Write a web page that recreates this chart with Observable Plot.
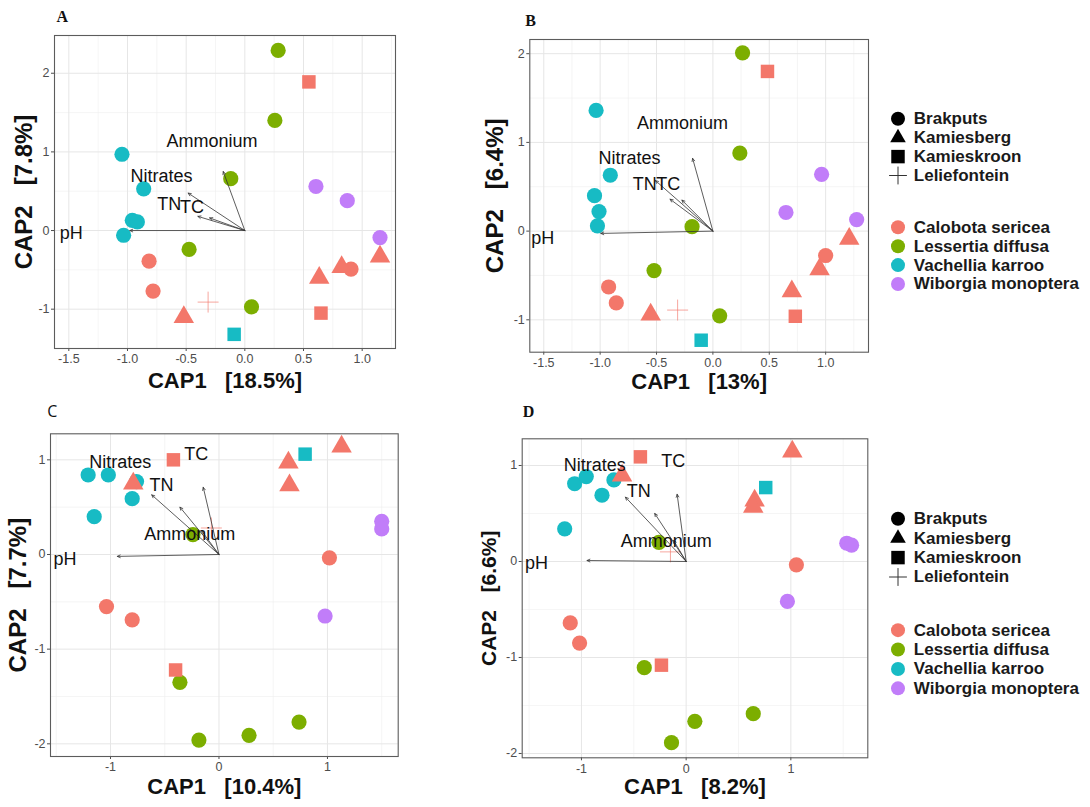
<!DOCTYPE html>
<html><head><meta charset="utf-8">
<script src="https://cdn.jsdelivr.net/npm/d3@7"></script>
<script src="https://cdn.jsdelivr.net/npm/@observablehq/plot@0.6"></script>
<style>
body{margin:0;background:#fff;width:1090px;height:807px;position:relative;overflow:hidden;font-family:"Liberation Sans",Arial,sans-serif;}
.panel{position:absolute;}
svg text{white-space:pre;}
</style></head><body>
<div id="pA" class="panel" style="left:0px;top:0px"></div>
<div id="pB" class="panel" style="left:480px;top:0px"></div>
<div id="pC" class="panel" style="left:0px;top:400px"></div>
<div id="pD" class="panel" style="left:480px;top:400px"></div>
<div id="lg1" class="panel" style="left:880px;top:100px"></div>
<div id="lg2" class="panel" style="left:880px;top:500px"></div>
<script>
// ---------- categories ----------
const speciesNames = ["Calobota sericea","Lessertia diffusa","Vachellia karroo","Wiborgia monoptera"];
const siteNames = ["Brakputs","Kamiesberg","Kamieskroon","Leliefontein"];
const speciesColors = ["#F3776A","#7CAE00","#17BBC4","#C17DF9"];
const vectorNames = ["pH","Nitrates","TN","TC","Ammonium"];

// ---------- samples (same order in every panel) ----------
const sampleSpecies = [
  "Lessertia diffusa","Lessertia diffusa","Lessertia diffusa","Lessertia diffusa","Lessertia diffusa",
  "Vachellia karroo","Vachellia karroo","Vachellia karroo","Vachellia karroo","Vachellia karroo","Vachellia karroo",
  "Calobota sericea","Calobota sericea","Calobota sericea","Calobota sericea","Calobota sericea",
  "Calobota sericea","Calobota sericea","Calobota sericea","Calobota sericea","Calobota sericea",
  "Wiborgia monoptera","Wiborgia monoptera","Wiborgia monoptera"];
const sampleSite = [
  "Brakputs","Brakputs","Brakputs","Brakputs","Brakputs",
  "Brakputs","Brakputs","Brakputs","Brakputs","Brakputs","Kamieskroon",
  "Brakputs","Brakputs","Brakputs","Kamiesberg","Kamiesberg",
  "Kamiesberg","Kamiesberg","Kamieskroon","Kamieskroon","Leliefontein",
  "Brakputs","Brakputs","Brakputs"];

// ---------- panel A ----------
const A_cap1 = [0.284,0.256,-0.12,-0.475,0.057, -1.047,-0.862,-0.959,-0.916,-1.033,-0.091, -0.816,-0.782,0.905,-0.52,0.634, 1.152,0.825,0.546,0.649,-0.313, 0.606,0.873,1.152];
const A_cap2 = [2.29,1.40,0.66,-0.24,-0.97, 0.97,0.53,0.13,0.11,-0.06,-1.32, -0.39,-0.77,-0.49,-1.10,-0.60, -0.33,-0.465,1.89,-1.05,-0.91, 0.56,0.38,-0.09];
const A_vec1 = [-0.98,-0.483,-0.40,-0.30,-0.184];
const A_vec2 = [0.0,0.476,0.18,0.16,0.75];
const A_lab1 = [-1.48,-0.71,-0.645,-0.45,-0.28];
const A_lab2 = [-0.04,0.69,0.33,0.295,1.13];

// ---------- panel B ----------
const B_cap1 = [0.263,0.239,-0.185,-0.522,0.06, -1.036,-0.91,-1.05,-1.01,-1.024,-0.104, -0.925,-0.857,1.0,-0.552,0.70, 0.946,1.209,0.484,0.731,-0.313, 0.964,0.648,1.275];
const B_cap2 = [2.01,0.88,0.05,-0.445,-0.955, 1.36,0.63,0.40,0.22,0.06,-1.23, -0.63,-0.81,-0.275,-0.94,-0.68, -0.43,-0.087,1.80,-0.96,-0.89, 0.64,0.21,0.13];
const B_vec1 = [-0.994,-0.51,-0.38,-0.275,-0.18];
const B_vec2 = [-0.026,0.57,0.36,0.35,0.82];
const B_lab1 = [-1.51,-0.74,-0.605,-0.395,-0.27];
const B_lab2 = [-0.08,0.82,0.53,0.53,1.22];

// ---------- panel C ----------
const C_cap1 = [-0.24,-0.36,-0.185,0.277,0.738, -1.206,-1.02,-0.76,-0.80,-1.15,0.794, -1.037,-0.80,1.018,-0.79,0.64, 0.65,1.13,-0.42,-0.40,-0.07, 1.50,1.50,0.978];
const C_cap2 = [0.21,-1.35,-1.96,-1.91,-1.77, 0.84,0.84,0.77,0.59,0.40,1.06, -0.55,-0.69,-0.035,0.75,0.97, 0.73,1.14,1.00,-1.22,0.28, 0.35,0.27,-0.65];
const C_vec1 = [-0.937,-0.62,-0.36,-0.145,-0.16];
const C_vec2 = [-0.02,0.63,0.50,0.71,0.25];
const C_lab1 = [-1.42,-0.91,-0.53,-0.21,-0.27];
const C_lab2 = [-0.05,0.97,0.73,1.06,0.21];

// ---------- panel D ----------
const D_cap1 = [-0.26,-0.40,0.083,-0.14,0.641, -1.065,-0.954,-0.804,-0.69,-1.16,0.76, -1.107,-1.018,1.053,-0.612,1.014, 0.654,0.641,-0.437,-0.236,-0.15, 1.534,1.58,0.967];
const D_cap2 = [0.20,-1.106,-1.665,-1.887,-1.585, 0.81,0.885,0.69,0.85,0.34,0.77, -0.64,-0.85,-0.035,0.895,1.145, 0.635,0.57,1.09,-1.08,0.10, 0.19,0.17,-0.416];
const D_vec1 = [-0.947,-0.58,-0.30,-0.086,-0.12];
const D_vec2 = [0.01,0.67,0.50,0.70,0.22];
const D_lab1 = [-1.43,-0.874,-0.453,-0.124,-0.19];
const D_lab2 = [-0.014,1.0,0.73,1.04,0.21];

// ---------- axis breaks ----------
const ticksX_AB = [-1.5,-1.0,-0.5,0.0,0.5,1.0];
const minorX_AB = [-1.25,-0.75,-0.25,0.25,0.75,1.25];
const ticksY_AB = [-1,0,1,2];
const minorY_AB = [-0.5,0.5,1.5];
const ticksX_CD = [-1,0,1];
const minorX_CD = [-1.5,-0.5,0.5,1.5];
const ticksY_CD = [-2,-1,0,1];
const minorY_CD = [-1.5,-0.5,0.5];

function panel(cfg) {
  const pts = sampleSpecies.map((s, i) => ({species: s, site: sampleSite[i], x: cfg.cap1[i], y: cfg.cap2[i]}));
  const filled = pts.filter(d => d.site !== "Leliefontein");
  const crosses = pts.filter(d => d.site === "Leliefontein");
  const vecs = vectorNames.map((n, i) => ({name: n, x: cfg.vec1[i], y: cfg.vec2[i], lx: cfg.lab1[i], ly: cfg.lab2[i]}));
  return Plot.plot({
    width: cfg.width, height: cfg.height,
    marginTop: cfg.m[0], marginRight: cfg.m[1], marginBottom: cfg.m[2], marginLeft: cfg.m[3],
    x: {domain: cfg.xdom},
    y: {domain: cfg.ydom},
    color: {domain: speciesNames, range: speciesColors},
    symbol: {domain: siteNames, range: ["circle","triangle","square","plus"]},
    style: {fontFamily: "'Liberation Sans', Arial, sans-serif", background: "#fff", overflow: "visible"},
    marks: [
      Plot.ruleX(cfg.minorX, {stroke: "#efefef", strokeWidth: 0.6}),
      Plot.ruleY(cfg.minorY, {stroke: "#efefef", strokeWidth: 0.6}),
      Plot.ruleX(cfg.ticksX, {stroke: "#e6e6e6", strokeWidth: 1}),
      Plot.ruleY(cfg.ticksY, {stroke: "#e6e6e6", strokeWidth: 1}),
      Plot.axisX({ticks: cfg.ticksX, tickFormat: cfg.fmtX, label: null, tickSize: 3, tickPadding: 3, fontSize: 12.5, color: "#4d4d4d"}),
      Plot.axisY({ticks: cfg.ticksY, tickFormat: d => String(d), label: null, tickSize: 3, tickPadding: 2, fontSize: 12.5, color: "#4d4d4d"}),
      Plot.dot(filled, {x: "x", y: "y", fill: "species", symbol: "site", r: 7.6, stroke: "none"}),
      Plot.dot(crosses, {x: "x", y: "y", stroke: "species", fill: "none", symbol: "site", r: 6.8, strokeWidth: 1, strokeOpacity: 0.65}),
      Plot.arrow(vecs, {x1: () => 0, y1: () => 0, x2: "x", y2: "y", stroke: "#333", strokeWidth: 0.8, headLength: 6, headAngle: 50}),
      Plot.text(vecs, {x: "lx", y: "ly", text: "name", fontSize: 18, fill: "#111"}),
      Plot.frame({stroke: "#5c5c5c", strokeWidth: 1.1}),
      Plot.text([cfg.xtitle], {frameAnchor: "bottom", dy: cfg.xtdy, text: d => d, fontSize: 22, fontWeight: "bold", fill: "#111", lineAnchor: "middle"}),
      Plot.text([cfg.ytitle], {frameAnchor: "left", dx: cfg.ytdx, rotate: -90, text: d => d, fontSize: cfg.ytsize, fontWeight: "bold", fill: "#111", lineAnchor: "middle", textAnchor: "middle"}),
      Plot.text([cfg.letter], {frameAnchor: "top-left", dx: cfg.ldx, dy: cfg.ldy, text: d => d, fontSize: 16, fontWeight: cfg.lweight, fontFamily: cfg.lfont, fill: "#111", lineAnchor: "middle", textAnchor: "middle"})
    ]
  });
}

const fmt1 = d => d.toFixed(1);
const fmt0 = d => String(d);

document.getElementById("pA").append(panel({
  width: 400, height: 400, m: [35, 5, 52, 54],
  xdom: [-1.622, 1.284], ydom: [-1.50, 2.48],
  cap1: A_cap1, cap2: A_cap2, vec1: A_vec1, vec2: A_vec2, lab1: A_lab1, lab2: A_lab2,
  ticksX: ticksX_AB, minorX: minorX_AB, ticksY: ticksY_AB, minorY: minorY_AB, fmtX: fmt1,
  xtitle: "CAP1   [18.5%]", xtdy: 32, ytitle: "CAP2   [7.8%]", ytdx: -30, ytsize: 24,
  letter: "A", ldx: 7.7, ldy: -18.3, lweight: "bold", lfont: "'Liberation Serif', serif"
}));
document.getElementById("pB").append(panel({
  width: 390, height: 400, m: [39, 2, 48.3, 49.3],
  xdom: [-1.624, 1.38], ydom: [-1.365, 2.16],
  cap1: B_cap1, cap2: B_cap2, vec1: B_vec1, vec2: B_vec2, lab1: B_lab1, lab2: B_lab2,
  ticksX: ticksX_AB, minorX: minorX_AB, ticksY: ticksY_AB, minorY: minorY_AB, fmtX: fmt1,
  xtitle: "CAP1   [13%]", xtdy: 30, ytitle: "CAP2   [6.4%]", ytdx: -34, ytsize: 24,
  letter: "B", ldx: 0.7, ldy: -19, lweight: "bold", lfont: "'Liberation Serif', serif"
}));
document.getElementById("pC").append(panel({
  width: 400, height: 407, m: [33.3, 2.3, 51, 50],
  xdom: [-1.553, 1.652], ydom: [-2.134, 1.275],
  cap1: C_cap1, cap2: C_cap2, vec1: C_vec1, vec2: C_vec2, lab1: C_lab1, lab2: C_lab2,
  ticksX: ticksX_CD, minorX: minorX_CD, ticksY: ticksY_CD, minorY: minorY_CD, fmtX: fmt0,
  xtitle: "CAP1   [10.4%]", xtdy: 30.7, ytitle: "CAP2   [7.7%]", ytdx: -31.7, ytsize: 24,
  letter: "C", ldx: 1.7, ldy: -21.6, lweight: "normal", lfont: "'Open Sans', sans-serif"
}));
document.getElementById("pD").append(panel({
  width: 390, height: 407, m: [38.3, 2.7, 49.7, 41.7],
  xdom: [-1.566, 1.735], ydom: [-2.045, 1.278],
  cap1: D_cap1, cap2: D_cap2, vec1: D_vec1, vec2: D_vec2, lab1: D_lab1, lab2: D_lab2,
  ticksX: ticksX_CD, minorX: minorX_CD, ticksY: ticksY_CD, minorY: minorY_CD, fmtX: fmt0,
  xtitle: "CAP1   [8.2%]", xtdy: 29.4, ytitle: "CAP2   [6.6%]", ytdx: -33.4, ytsize: 21,
  letter: "D", ldx: 6.3, ldy: -26.6, lweight: "bold", lfont: "'Liberation Serif', serif"
}));

// ---------- legends ----------
function legend(first, step) {
  const gap = 5.74;
  const siteRows = siteNames.map((s, i) => ({label: s, row: i}));
  const spRows = speciesNames.map((s, i) => ({label: s, row: i + gap}));
  const last = gap + 3;
  const symR = {Brakputs: 7, Kamiesberg: 5.8, Kamieskroon: 7.6, Leliefontein: 5.8};
  return Plot.plot({
    width: 210, height: 200, margin: 0,
    x: {domain: [0, 1], axis: null},
    y: {domain: [0, last], range: [first, first + last * step], axis: null},
    r: {type: "identity"},
    symbol: {domain: siteNames, range: ["circle","triangle","square","plus"]},
    color: {domain: speciesNames, range: speciesColors},
    style: {fontFamily: "'Liberation Sans', Arial, sans-serif", overflow: "visible"},
    marks: [
      Plot.dot(siteRows.filter(d => d.label !== "Leliefontein"), {frameAnchor: "left", dx: 17.5, y: "row", symbol: "label", fill: "#000", r: d => symR[d.label]}),
      Plot.dot(siteRows.filter(d => d.label === "Leliefontein"), {frameAnchor: "left", dx: 17.5, y: "row", symbol: "label", stroke: "#333", fill: "none", strokeWidth: 1, r: d => symR[d.label]}),
      Plot.dot(spRows, {frameAnchor: "left", dx: 17.5, y: "row", fill: "label", symbol: () => "circle", r: () => 7}),
      Plot.text(siteRows.concat(spRows), {frameAnchor: "left", dx: 33.3, y: "row", text: "label", textAnchor: "start", fontSize: 17, fontWeight: "bold", fill: "#1a1a1a"})
    ]
  });
}
document.getElementById("lg1").append(legend(18.3, 18.9));
document.getElementById("lg2").append(legend(18.3, 19.4));
</script>
</body></html>
